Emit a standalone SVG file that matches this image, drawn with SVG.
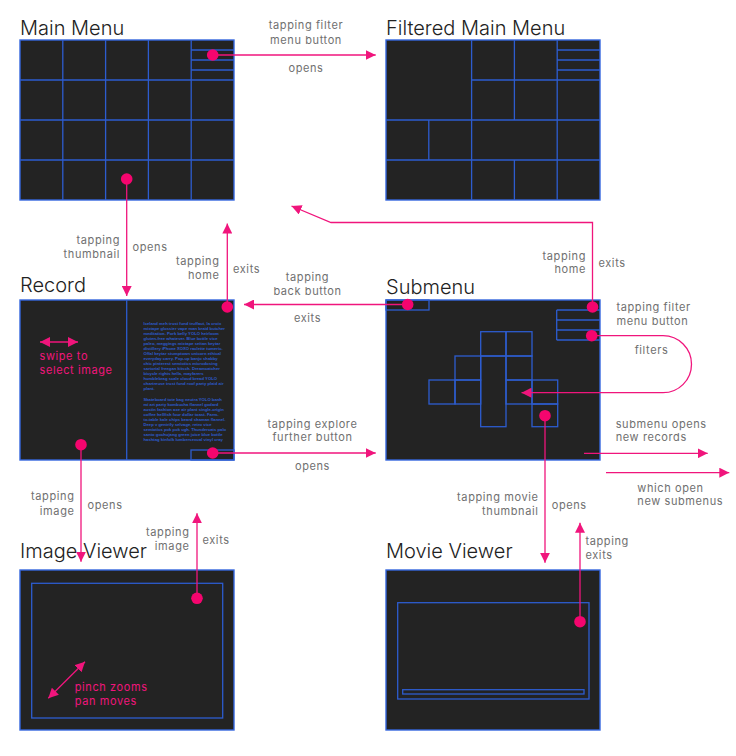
<svg xmlns="http://www.w3.org/2000/svg" width="736" height="756" viewBox="0 0 736 756">
<defs>
<style>
.panel{fill:#232323;stroke:#3567de;stroke-width:1.4}
.grid{fill:none;stroke:#2d5ccf;stroke-width:1.3}
.title{font-family:Inter,"Liberation Sans",sans-serif;font-size:20px;font-weight:300;fill:#222}
.lbl{font-family:Inter,"Liberation Sans",sans-serif;font-size:11px;fill:#707070;letter-spacing:0.6px}
.pl{font-family:Inter,"Liberation Sans",sans-serif;font-size:11px;fill:#f0157c;letter-spacing:0.6px}
.con{fill:none;stroke:#f0157c;stroke-width:1.3}
.dot{fill:#f5056e}
.lorem{font-family:"Liberation Sans",sans-serif;font-weight:bold;font-size:4.2px;fill:#2d5ccf}
</style>
<marker id="ah" viewBox="0 0 10 10" refX="10" refY="5" markerWidth="10" markerHeight="10" markerUnits="userSpaceOnUse" orient="auto-start-reverse">
<path d="M0,0 L10,5 L0,10 Z" fill="#f0157c"/>
</marker>
<clipPath id="txtclip"><rect x="130" y="318" width="100" height="124"/></clipPath>
</defs>

<g id="main-menu">
<text class="title" x="20" y="35">Main Menu</text>
<rect class="panel" x="20" y="40" width="214" height="160"/>
<path class="grid" d="M62.8,40V200M105.6,40V200M148.4,40V200M191.2,40V200M20,80H234M20,120H234M20,160H234M191.2,50H234M191.2,60H234M191.2,70H234"/>
</g>

<g id="filtered-main-menu">
<text class="title" x="386" y="35">Filtered Main Menu</text>
<rect class="panel" x="386" y="40" width="214" height="160"/>
<path class="grid" d="M471.6,40V200M557.2,40V200M514.4,40V120M514.4,160V200M428.8,120V160M471.6,80H600M386,120H600M386,160H600M557.2,50H600M557.2,60H600M557.2,70H600"/>
</g>

<g id="record">
<text class="title" x="20" y="292">Record</text>
<rect class="panel" x="20" y="300" width="214" height="160"/>
<path class="grid" d="M126.7,300V460"/>
<rect class="grid" x="191" y="450" width="43" height="10"/>
<g clip-path="url(#txtclip)">
<text class="lorem" x="143.5" y="324.5">Iceland meh trust fund truffaut, la croix</text>
<text class="lorem" x="143.5" y="329.5">mixtape glossier vape man braid butcher</text>
<text class="lorem" x="143.5" y="334.5">meditation. Pork belly YOLO heirloom</text>
<text class="lorem" x="143.5" y="339.5">gluten-free whatever. Blue bottle vice</text>
<text class="lorem" x="143.5" y="344.5">paleo, meggings mixtape seitan keytar</text>
<text class="lorem" x="143.5" y="349.5">distillery iPhone XOXO raclette tumeric.</text>
<text class="lorem" x="143.5" y="354.5">Offal keytar stumptown unicorn ethical</text>
<text class="lorem" x="143.5" y="359.5">everyday carry. Pop-up banjo shabby</text>
<text class="lorem" x="143.5" y="364.5">chic pinterest semiotics microdosing</text>
<text class="lorem" x="143.5" y="369.5">sartorial freegan kitsch. Dreamcatcher</text>
<text class="lorem" x="143.5" y="374.5">bicycle rights hella, mayfarers</text>
<text class="lorem" x="143.5" y="379.5">humblebrag scale cloud bread YOLO</text>
<text class="lorem" x="143.5" y="384.5">chartreuse trust fund roof party plaid air</text>
<text class="lorem" x="143.5" y="389.5">plant.</text>
<text class="lorem" x="143.5" y="400.5">Skateboard tote bag neutra YOLO banh</text>
<text class="lorem" x="143.5" y="405.5">mi art party kombucha flannel godard</text>
<text class="lorem" x="143.5" y="410.5">austin fashion axe air plant single-origin</text>
<text class="lorem" x="143.5" y="415.5">coffee hellfish four dollar toast. Farm-</text>
<text class="lorem" x="143.5" y="420.5">to-table kale chips beard shaman flannel.</text>
<text class="lorem" x="143.5" y="425.5">Deep v gentrify selvage, retro vice</text>
<text class="lorem" x="143.5" y="430.5">semiotics pok pok ugh. Thundercats palo</text>
<text class="lorem" x="143.5" y="435.5">santo gochujang green juice blue bottle</text>
<text class="lorem" x="143.5" y="440.5">hashtag kinfolk lumbersexual vinyl cray</text>
<text class="lorem" x="143.5" y="445.5">post-ironic fingerstache wolf tousled</text>
</g>
<path class="con" d="M40,342H78" marker-start="url(#ah)" marker-end="url(#ah)"/>
<text class="pl" x="39.5" y="360">swipe to</text>
<text class="pl" x="39.5" y="374">select image</text>
</g>

<g id="submenu">
<text class="title" x="386" y="294">Submenu</text>
<rect class="panel" x="386" y="300" width="214" height="160"/>
<rect class="grid" x="386" y="300" width="43" height="10"/>
<path class="grid" d="M556.7,310H600M556.7,320H600M556.7,330H600M556.7,340H600M556.7,310V340"/>
<rect class="grid" x="480.7" y="331.7" width="25.3" height="24.3"/>
<rect class="grid" x="506" y="331.7" width="26" height="24.3"/>
<rect class="grid" x="455" y="356" width="25.7" height="24"/>
<rect class="grid" x="480.7" y="356" width="25.3" height="70.7"/>
<rect class="grid" x="506" y="356" width="26" height="24"/>
<rect class="grid" x="429" y="380" width="26" height="24"/>
<rect class="grid" x="455" y="380" width="25.7" height="24"/>
<rect class="grid" x="506" y="380" width="26" height="24"/>
<rect class="grid" x="532" y="380" width="25.7" height="24"/>
<rect class="grid" x="532" y="404" width="25.7" height="22.7"/>
</g>

<g id="image-viewer">
<text class="title" x="20" y="558">Image Viewer</text>
<rect class="panel" x="20" y="570" width="214" height="160"/>
<rect class="grid" x="31.7" y="583.3" width="191" height="134.7"/>
<path class="con" d="M48.3,698.3L85,661.7" marker-start="url(#ah)" marker-end="url(#ah)"/>
<text class="pl" x="74.7" y="691">pinch zooms</text>
<text class="pl" x="74.7" y="705">pan moves</text>
</g>

<g id="movie-viewer">
<text class="title" x="386" y="557.5">Movie Viewer</text>
<rect class="panel" x="386" y="570" width="214" height="160"/>
<rect class="grid" x="397.7" y="602.7" width="191.3" height="96.3"/>
<rect class="grid" x="402.7" y="689.7" width="181.3" height="4.3"/>
</g>

<g id="connectors">
<path class="con" d="M212.7,55H375.7" marker-end="url(#ah)"/>
<path class="con" d="M126.7,179V296" marker-end="url(#ah)"/>
<path class="con" d="M227.3,307V223.5" marker-end="url(#ah)"/>
<path class="con" d="M592.5,307V222.5H331L291.5,206" marker-end="url(#ah)"/>
<path class="con" d="M407.7,304.5H244" marker-end="url(#ah)"/>
<path class="con" d="M212.7,453H375.7" marker-end="url(#ah)"/>
<path class="con" d="M591.7,335.7H663A28.5,28.5 0 0 1 663,392.7H521.5" marker-end="url(#ah)"/>
<path class="con" d="M584,453.3H707.7" marker-end="url(#ah)"/>
<path class="con" d="M606,472.7H729.3" marker-end="url(#ah)"/>
<path class="con" d="M81,444.7V561.7" marker-end="url(#ah)"/>
<path class="con" d="M197,598.3V513.3" marker-end="url(#ah)"/>
<path class="con" d="M545,415.7V562.7" marker-end="url(#ah)"/>
<path class="con" d="M580,621.7V522.7" marker-end="url(#ah)"/>

<circle class="dot" cx="212.7" cy="55" r="5.8"/>
<circle class="dot" cx="126.7" cy="179" r="5.8"/>
<circle class="dot" cx="227.3" cy="307" r="5.8"/>
<circle class="dot" cx="592.5" cy="307" r="5.8"/>
<circle class="dot" cx="407.7" cy="304.5" r="5.8"/>
<circle class="dot" cx="212.7" cy="453" r="5.8"/>
<circle class="dot" cx="591.7" cy="335.7" r="5.8"/>
<circle class="dot" cx="81" cy="444.7" r="5.8"/>
<circle class="dot" cx="197" cy="598.3" r="5.8"/>
<circle class="dot" cx="545" cy="415.7" r="5.8"/>
<circle class="dot" cx="580" cy="621.7" r="5.8"/>

<text class="lbl" x="306" y="29" text-anchor="middle">tapping filter</text>
<text class="lbl" x="306" y="44" text-anchor="middle">menu button</text>
<text class="lbl" x="306" y="72" text-anchor="middle">opens</text>

<text class="lbl" x="120" y="243.5" text-anchor="end">tapping</text>
<text class="lbl" x="120" y="257.5" text-anchor="end">thumbnail</text>
<text class="lbl" x="132.5" y="251">opens</text>

<text class="lbl" x="219.5" y="265" text-anchor="end">tapping</text>
<text class="lbl" x="219.5" y="279" text-anchor="end">home</text>
<text class="lbl" x="233" y="273">exits</text>

<text class="lbl" x="586" y="259.5" text-anchor="end">tapping</text>
<text class="lbl" x="586" y="273" text-anchor="end">home</text>
<text class="lbl" x="598.5" y="267">exits</text>

<text class="lbl" x="307.5" y="281" text-anchor="middle">tapping</text>
<text class="lbl" x="307.5" y="294.5" text-anchor="middle">back button</text>
<text class="lbl" x="307.5" y="322" text-anchor="middle">exits</text>

<text class="lbl" x="616.5" y="311">tapping filter</text>
<text class="lbl" x="616.5" y="325">menu button</text>
<text class="lbl" x="651.5" y="353.5" text-anchor="middle">filters</text>

<text class="lbl" x="312.5" y="428" text-anchor="middle">tapping explore</text>
<text class="lbl" x="312.5" y="441" text-anchor="middle">further button</text>
<text class="lbl" x="312.5" y="469.5" text-anchor="middle">opens</text>

<text class="lbl" x="615.7" y="427.5">submenu opens</text>
<text class="lbl" x="615.7" y="441">new records</text>
<text class="lbl" x="637.3" y="492">which open</text>
<text class="lbl" x="637.3" y="505">new submenus</text>

<text class="lbl" x="74.5" y="500" text-anchor="end">tapping</text>
<text class="lbl" x="74.5" y="514.5" text-anchor="end">image</text>
<text class="lbl" x="87.5" y="508.5">opens</text>

<text class="lbl" x="189.5" y="536" text-anchor="end">tapping</text>
<text class="lbl" x="189.5" y="549.5" text-anchor="end">image</text>
<text class="lbl" x="202.5" y="543.5">exits</text>

<text class="lbl" x="538.5" y="501" text-anchor="end">tapping movie</text>
<text class="lbl" x="538.5" y="514.5" text-anchor="end">thumbnail</text>
<text class="lbl" x="551.7" y="509">opens</text>

<text class="lbl" x="585.5" y="545">tapping</text>
<text class="lbl" x="585.5" y="559">exits</text>
</g>
</svg>
